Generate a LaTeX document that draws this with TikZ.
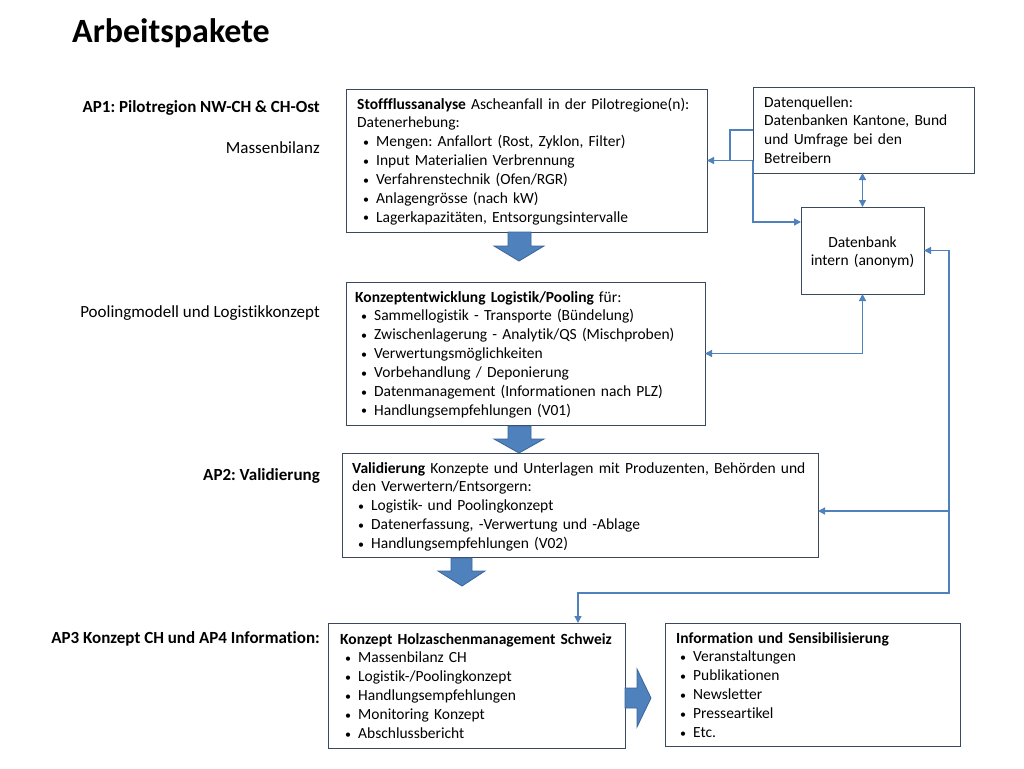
\documentclass[tikz,border=0pt]{standalone}
\usepackage{fontspec}
\setmainfont{Carlito}[Ligatures=NoCommon]
\usetikzlibrary{arrows.meta}
\definecolor{boxc}{HTML}{3A4A5C}
\definecolor{linec}{HTML}{4F81BD}
\definecolor{arrf}{HTML}{4F81BD}
\definecolor{arrd}{HTML}{3A6699}
\newcommand{\bitem}[2][6pt]{\hspace*{#1}\makebox[13pt][l]{\raisebox{0.5pt}{\fontsize{12}{12}\selectfont\textbullet}}#2}
\begin{document}
\frenchspacing
\begin{tikzpicture}[x=1pt,y=-1pt,
  box/.style={draw=boxc, line width=1pt, inner sep=0pt, outer sep=0pt, anchor=north west},
  txt/.style={anchor=base west, inner sep=0pt, text width=470pt, align=left, font=\fontsize{15.5}{18.9}\selectfont\frenchspacing},
  lbl/.style={anchor=base east, inner sep=0pt, font=\fontsize{17}{20}\selectfont},
  conn/.style={draw=linec, line width=1.3pt, -{Triangle[length=7pt,width=7pt]}},
  conn2/.style={draw=linec, line width=1.3pt, {Triangle[length=7pt,width=7pt]}-{Triangle[length=7pt,width=7pt]}},
  plain/.style={draw=linec, line width=1.3pt},
  blk/.style={fill=arrf, draw=arrd, line width=0.8pt, line join=miter}]
\fill[white] (0,0) rectangle (1024,768);
\useasboundingbox (0,0) rectangle (1024,768);

% title and labels
\node[anchor=base west, inner sep=0pt, font=\fontsize{34}{40}\selectfont\bfseries] (title) at (72,42) {Arbeitspakete};
\node[lbl, font=\fontsize{17}{20}\selectfont\bfseries] (l1) at (320,112) {AP1: Pilotregion NW-CH \& CH-Ost};
\node[lbl] (l2) at (320,153) {Massenbilanz};
\node[lbl] (l3) at (320,317) {Poolingmodell und Logistikkonzept};
\node[lbl, font=\fontsize{17}{20}\selectfont\bfseries] (l4) at (320,480) {AP2: Validierung};
\node[lbl, font=\fontsize{17}{20}\selectfont\bfseries] (l5) at (320,643) {AP3 Konzept CH und AP4 Information:};

% boxes
\node[box, minimum width=361pt, minimum height=143pt] (b1) at (346,89) {};
\node[box, minimum width=221pt, minimum height=86pt] (dq) at (753,87) {};
\node[box, minimum width=123pt, minimum height=87pt] (db) at (801,207) {};
\node[box, minimum width=359pt, minimum height=143pt] (b2) at (346,282) {};
\node[box, minimum width=476pt, minimum height=104pt] (b3) at (342,453) {};
\node[box, minimum width=297pt, minimum height=125pt] (b4) at (328,623) {};
\node[box, minimum width=295pt, minimum height=123pt] (b5) at (665,623) {};

% box texts
\node[txt] (t1) at (357,109) {\textbf{Stoffflussanalyse} Ascheanfall in der Pilotregione(n):\\
Datenerhebung:\\
\bitem{Mengen: Anfallort (Rost, Zyklon, Filter)}\\
\bitem{Input Materialien Verbrennung}\\
\bitem{Verfahrenstechnik (Ofen/RGR)}\\
\bitem{Anlagengrösse (nach kW)}\\
\bitem{Lagerkapazitäten, Entsorgungsintervalle}};

\node[txt, text width=210pt] (tdq) at (764,107) {Datenquellen:\\
Datenbanken Kantone, Bund\\
und Umfrage bei den\\
Betreibern};

\node[txt, anchor=base, text width=120pt, align=center] (tdb) at (862.5,247) {Datenbank\\intern (anonym)};

\node[txt] (t2) at (355,302) {\textbf{Konzeptentwicklung Logistik/Pooling} für:\\
\bitem{Sammellogistik - Transporte (Bündelung)}\\
\bitem{Zwischenlagerung - Analytik/QS (Mischproben)}\\
\bitem{Verwertungsmöglichkeiten}\\
\bitem{Vorbehandlung / Deponierung}\\
\bitem{Datenmanagement (Informationen nach PLZ)}\\
\bitem{Handlungsempfehlungen (V01)}};

\node[txt] (t3) at (352,473) {\textbf{Validierung} Konzepte und Unterlagen mit Produzenten, Behörden und\\
den Verwertern/Entsorgern:\\
\bitem{Logistik- und Poolingkonzept}\\
\bitem{Datenerfassung, -Verwertung und -Ablage}\\
\bitem{Handlungsempfehlungen (V02)}};

\node[txt] (t4) at (340,644) {\textbf{Konzept Holzaschenmanagement Schweiz}\\
\bitem[5pt]{Massenbilanz CH}\\
\bitem[5pt]{Logistik-/Poolingkonzept}\\
\bitem[5pt]{Handlungsempfehlungen}\\
\bitem[5pt]{Monitoring Konzept}\\
\bitem[5pt]{Abschlussbericht}};

\node[txt] (t5) at (676,643) {\textbf{Information und Sensibilisierung}\\
\bitem[4pt]{Veranstaltungen}\\
\bitem[4pt]{Publikationen}\\
\bitem[4pt]{Newsletter}\\
\bitem[4pt]{Presseartikel}\\
\bitem[4pt]{Etc.}};

% block arrows
\path[blk] (508,232) -- (531,232) -- (531,246) -- (544,246) -- (519,261) -- (494,246) -- (508,246) -- cycle;
\path[blk] (508,426) -- (531,426) -- (531,439) -- (544,439) -- (519,453) -- (494,439) -- (508,439) -- cycle;
\path[blk] (451,558) -- (472,558) -- (472,571) -- (485,571) -- (462,586) -- (438,571) -- (451,571) -- cycle;
\path[blk] (625,688) -- (637,688) -- (637,669) -- (651,698) -- (637,727) -- (637,708) -- (625,708) -- cycle;

% connectors
\coordinate (dbin) at ([yshift=28.5pt]db.west);
\coordinate (b3in) at ([yshift=-6pt]b3.east);
\coordinate (r) at (949,593);
\draw[conn] (dq.west) -- ++(-23,0) |- (b1.east);
\draw[plain] (b1.east -| dq.west) -- ++(-23,0);
\draw[conn] (b1.east -| dq.west) |- (dbin);
\draw[conn2] (db.north |- dq.south) -- (db.north);
\draw[conn2] (b2.east) -| (db.south);
\draw[conn2] (db.east) -| (r) -| ([xshift=101.5pt]b4.north);
\draw[conn] (r |- b3in) -- (b3in);
\end{tikzpicture}
\end{document}
